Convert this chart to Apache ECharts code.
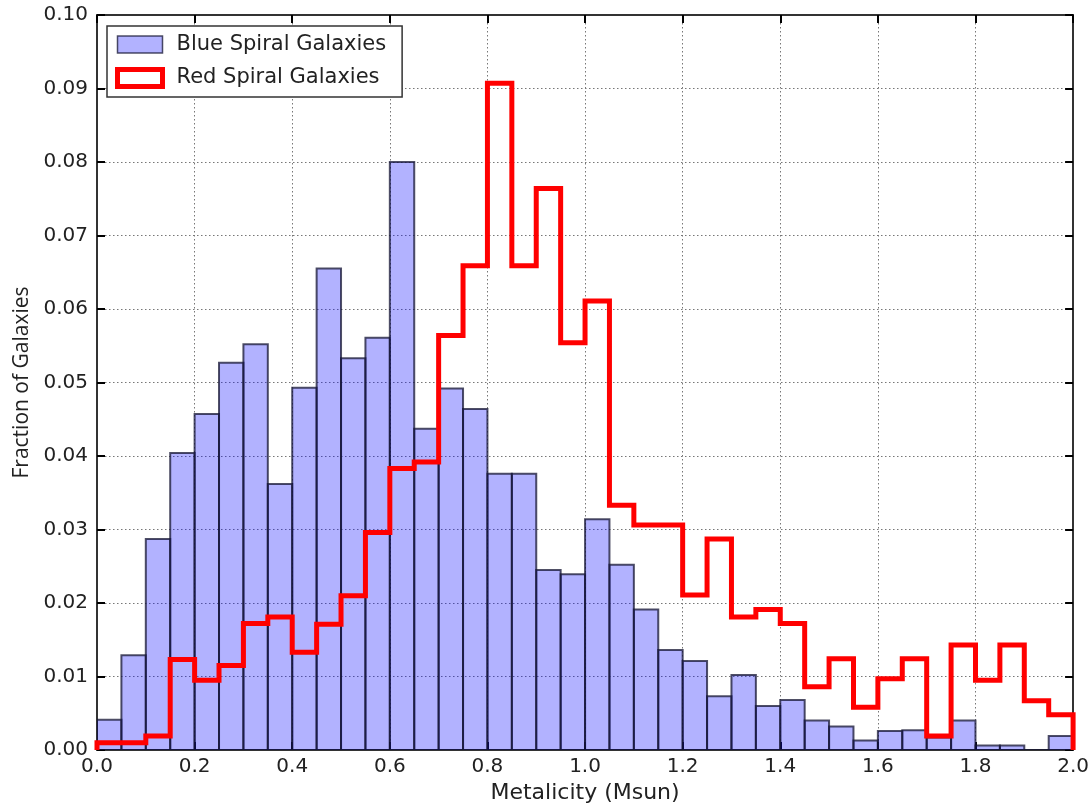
<!DOCTYPE html>
<html>
<head>
<meta charset="utf-8">
<title>Metalicity of Spiral Galaxies</title>
<script src="https://cdn.jsdelivr.net/npm/echarts@6/dist/echarts.min.js"></script>
<style>
  html, body { margin: 0; padding: 0; background: #fff; }
  #chart { width: 1092px; height: 811px; }
</style>
</head>
<body>
<div id="chart"></div>
<script>
// Histogram bins: 40 bins of width 0.05 covering 0.0 – 2.0 Msun
const binStart = 0.0;
const binWidth = 0.05;
const binCount = 40;

// Fraction of blue spiral galaxies per bin
const blueFractions = [
  0.0041, 0.0129, 0.0287, 0.0404, 0.0457, 0.0527, 0.0552, 0.0362, 0.0493, 0.0655,
  0.0533, 0.0561, 0.0800, 0.0437, 0.0492, 0.0464, 0.0376, 0.0376, 0.0245, 0.0239,
  0.0314, 0.0252, 0.0191, 0.0136, 0.0121, 0.0073, 0.0102, 0.0060, 0.0068, 0.0040,
  0.0032, 0.0013, 0.0026, 0.0027, 0.0017, 0.0040, 0.0006, 0.0006, 0.0000, 0.0019
];

// Fraction of red spiral galaxies per bin
const redFractions = [
  0.0010, 0.0010, 0.0019, 0.0123, 0.0095, 0.0115, 0.0172, 0.0181, 0.0133, 0.0171,
  0.0210, 0.0296, 0.0383, 0.0392, 0.0564, 0.0659, 0.0907, 0.0659, 0.0764, 0.0554,
  0.0611, 0.0333, 0.0306, 0.0306, 0.0211, 0.0287, 0.0181, 0.0191, 0.0172, 0.0086,
  0.0124, 0.0058, 0.0097, 0.0124, 0.0019, 0.0143, 0.0095, 0.0143, 0.0067, 0.0048
];

// Axis ticks
const xTicks = { min: 0, max: 2.0, interval: 0.2 };
const yTicks = { min: 0, max: 0.10, interval: 0.01 };

const seriesNames = ['Blue Spiral Galaxies', 'Red Spiral Galaxies'];

// Build bin edges and data for the library
const edges = [];
for (let i = 0; i <= binCount; i++) edges.push(+(binStart + i * binWidth).toFixed(4));

const blueData = blueFractions.map((v, i) => [edges[i], edges[i + 1], v]);

// Step outline: rises from the baseline at the first edge, falls back at the last
const redPath = [[edges[0], 0]];
redFractions.forEach((v, i) => {
  redPath.push([edges[i], v]);
  redPath.push([edges[i + 1], v]);
});
redPath.push([edges[binCount], 0]);

const FONT = 'DejaVu Sans';
const TEXT = '#222';
const FRAME = '#333';
const blueFill = 'rgba(0,0,255,0.30)';
const blueEdge = 'rgba(20,20,50,0.75)';

const gridLine = { show: true, lineStyle: { color: '#777', width: 1, type: [1.5, 2.5] } };
const frameLine = { show: true, onZero: false, lineStyle: { color: FRAME, width: 2 } };
const innerTick = { show: true, inside: true, length: 8, lineStyle: { color: '#000', width: 2 } };

const chart = echarts.init(document.getElementById('chart'), null, { renderer: 'canvas' });

chart.setOption({
  animation: false,
  backgroundColor: '#fff',
  grid: { left: 97, top: 15, width: 977, height: 735, containLabel: false },
  legend: {
    left: 107,
    top: 26,
    orient: 'vertical',
    selectedMode: false,
    backgroundColor: '#fff',
    borderColor: FRAME,
    borderWidth: 1.5,
    borderRadius: 0,
    padding: [8, 16, 8, 8],
    itemWidth: 45,
    itemHeight: 17,
    itemGap: 12,
    z: 10,
    textStyle: { fontFamily: FONT, fontSize: 21, color: TEXT, padding: [0, 0, 0, 9] },
    data: [
      { name: seriesNames[0], icon: 'rect',
        itemStyle: { color: blueFill, borderColor: blueEdge, borderWidth: 1.5 } },
      { name: seriesNames[1], icon: 'rect',
        itemStyle: { color: '#fff', borderColor: '#ff0000', borderWidth: 5 } }
    ]
  },
  xAxis: [
    {
      type: 'value',
      position: 'bottom',
      min: xTicks.min, max: xTicks.max, interval: xTicks.interval,
      name: 'Metalicity (Msun)',
      nameLocation: 'middle',
      nameGap: 31,
      nameTextStyle: { fontFamily: FONT, fontSize: 22, color: TEXT },
      axisLine: frameLine,
      axisTick: innerTick,
      splitLine: gridLine,
      axisLabel: {
        fontFamily: FONT, fontSize: 20, color: TEXT, margin: 7,
        formatter: v => v.toFixed(1)
      }
    },
    {
      type: 'value',
      position: 'top',
      min: xTicks.min, max: xTicks.max, interval: xTicks.interval,
      axisLine: frameLine,
      axisTick: innerTick,
      splitLine: { show: false },
      axisLabel: { show: false }
    }
  ],
  yAxis: [
    {
      type: 'value',
      position: 'left',
      min: yTicks.min, max: yTicks.max, interval: yTicks.interval,
      name: 'Fraction of Galaxies',
      nameLocation: 'middle',
      nameGap: 62,
      nameRotate: 90,
      nameTextStyle: { fontFamily: 'Open Sans', fontSize: 21, color: TEXT },
      axisLine: frameLine,
      axisTick: innerTick,
      splitLine: gridLine,
      axisLabel: {
        fontFamily: FONT, fontSize: 20, color: TEXT, margin: 9,
        formatter: v => v.toFixed(2)
      }
    },
    {
      type: 'value',
      position: 'right',
      min: yTicks.min, max: yTicks.max, interval: yTicks.interval,
      axisLine: frameLine,
      axisTick: innerTick,
      splitLine: { show: false },
      axisLabel: { show: false }
    }
  ],
  series: [
    {
      name: seriesNames[0],
      type: 'custom',
      xAxisIndex: 0,
      yAxisIndex: 0,
      clip: true,
      itemStyle: { color: blueFill },
      encode: { x: [0, 1], y: 2 },
      data: blueData,
      renderItem: function (params, api) {
        const p0 = api.coord([api.value(0), 0]);
        const p1 = api.coord([api.value(1), api.value(2)]);
        return {
          type: 'rect',
          shape: { x: p0[0], y: p1[1], width: p1[0] - p0[0], height: p0[1] - p1[1] },
          style: { fill: blueFill, stroke: blueEdge, lineWidth: 2 }
        };
      },
      z: 2
    },
    {
      name: seriesNames[1],
      type: 'line',
      xAxisIndex: 0,
      yAxisIndex: 0,
      data: redPath,
      showSymbol: false,
      symbol: 'none',
      clip: true,
      itemStyle: { color: '#ff0000' },
      lineStyle: { color: '#ff0000', width: 5, join: 'miter', cap: 'butt' },
      z: 3
    }
  ]
});
</script>
</body>
</html>
